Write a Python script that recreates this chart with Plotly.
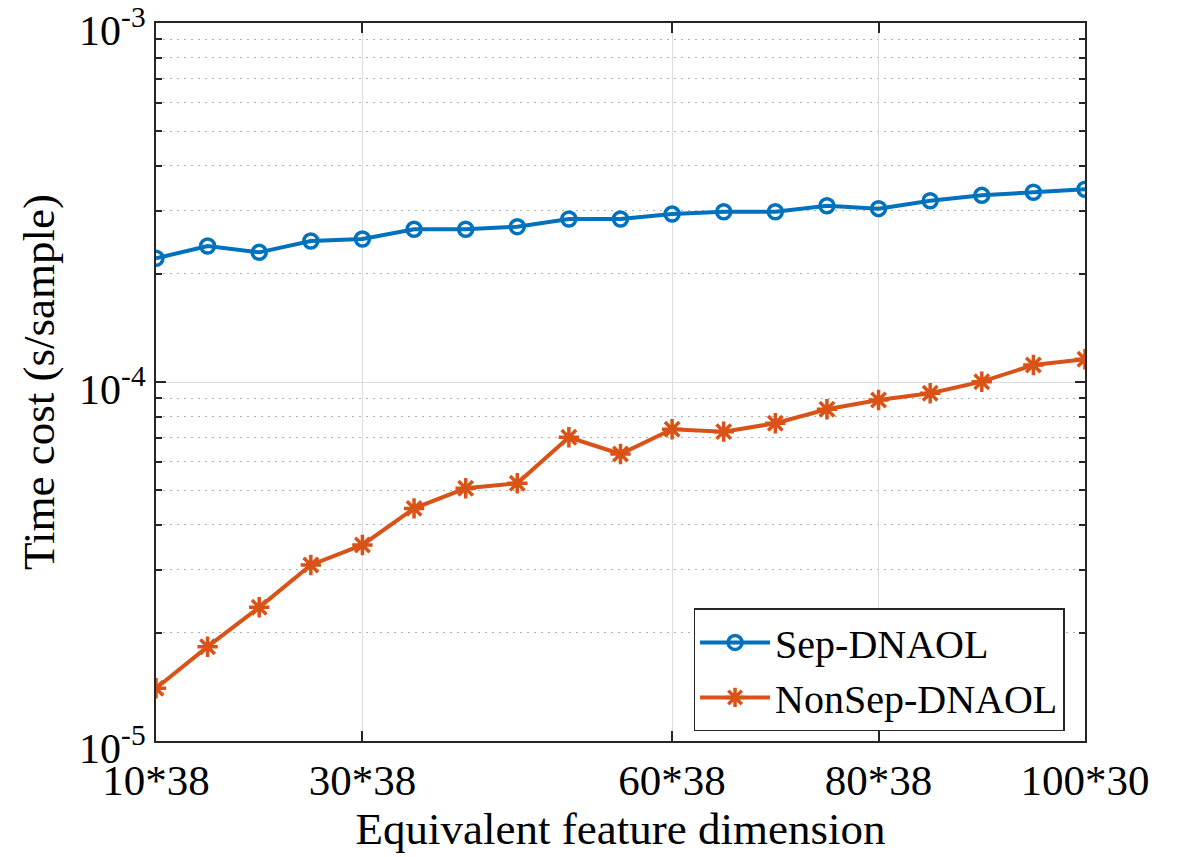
import plotly.graph_objects as go

dims = [10, 15, 20, 25, 30, 35, 40, 45, 50, 55, 60, 65, 70, 75, 80, 85, 90, 95, 100]
sep_dnaol = [2.211e-4, 2.392e-4, 2.297e-4, 2.471e-4, 2.502e-4, 2.663e-4, 2.663e-4, 2.708e-4,
             2.845e-4, 2.845e-4, 2.938e-4, 2.981e-4, 2.981e-4, 3.098e-4, 3.04e-4, 3.199e-4,
             3.311e-4, 3.376e-4, 3.442e-4]
nonsep_dnaol = [1.402e-5, 1.831e-5, 2.357e-5, 3.092e-5, 3.516e-5, 4.446e-5, 5.057e-5, 5.222e-5,
                7.015e-5, 6.302e-5, 7.385e-5, 7.273e-5, 7.674e-5, 8.395e-5, 8.91e-5, 9.30e-5,
                1.002e-4, 1.115e-4, 1.157e-4]
x_tickvals = [10, 30, 60, 80, 100]
x_ticktext = ["10*38", "30*38", "60*38", "80*38", "100*30"]
y_tickvals = [1e-5, 1e-4, 1e-3]
y_ticktext = ["10<sup>-5</sup>", "10<sup>-4</sup>", "10<sup>-3</sup>"]
y_minor = [k * 10.0 ** e for e in (-5, -4) for k in range(2, 10)]

FONT = "Liberation Serif, Times New Roman, serif"
AX = "#262626"

fig = go.Figure()
fig.add_trace(go.Scatter(
    x=dims, y=sep_dnaol, name="Sep-DNAOL", mode="lines+markers",
    line=dict(color="#0072BD", width=4),
    marker=dict(symbol="circle-open", size=14, line=dict(width=3.5, color="#0072BD")),
))
fig.add_trace(go.Scatter(
    x=dims, y=nonsep_dnaol, name="NonSep-DNAOL", mode="lines+markers",
    line=dict(color="#D95319", width=4),
    marker=dict(symbol="asterisk-open", size=17, line=dict(width=3.5, color="#D95319")),
))

fig.update_layout(
    width=1199, height=857,
    margin=dict(l=156, r=114, t=23, b=116, autoexpand=False),
    paper_bgcolor="white", plot_bgcolor="white",
    font=dict(family=FONT, size=40, color="black"),
    showlegend=True,
    legend=dict(
        x=0.978, y=0.099, xanchor="right", yanchor="middle",
        bgcolor="white", bordercolor=AX, borderwidth=1.5,
        font=dict(family=FONT, size=40, color="black"),
        itemwidth=70, tracegroupgap=0,
    ),
)
fig.update_xaxes(
    range=[10, 100], tickmode="array", tickvals=x_tickvals, ticktext=x_ticktext,
    ticks="inside", ticklen=10, tickwidth=1.5, tickcolor=AX,
    showline=True, linecolor=AX, linewidth=2, mirror="ticks",
    showgrid=True, gridcolor="#dcdcdc", gridwidth=1.3,
    zeroline=False, ticklabeloverflow="allow", automargin=False,
    tickfont=dict(family=FONT, size=43, color="black"),
    title=dict(text="Equivalent feature dimension", font=dict(family=FONT, size=45), standoff=6),
)
fig.update_yaxes(
    type="log", range=[-5.00001, -2.99999], tickmode="array", tickvals=y_tickvals, ticktext=y_ticktext,
    ticks="inside", ticklen=10, tickwidth=1.5, tickcolor=AX,
    showline=True, linecolor=AX, linewidth=2, mirror="ticks",
    showgrid=True, gridcolor="#dcdcdc", gridwidth=1.3,
    zeroline=False, ticklabeloverflow="allow", automargin=False, ticklabelshift=7,
    minor=dict(tickmode="array", tickvals=y_minor, ticks="inside", ticklen=6, tickcolor=AX,
               showgrid=True, gridcolor="#b0b0b0", griddash="1.5px,5.5px", gridwidth=1.3),
    tickfont=dict(family=FONT, size=42, color="black"),
    title=dict(text="Time cost (s/sample)", font=dict(family=FONT, size=45), standoff=10),
)

fig.write_html("out.html")
